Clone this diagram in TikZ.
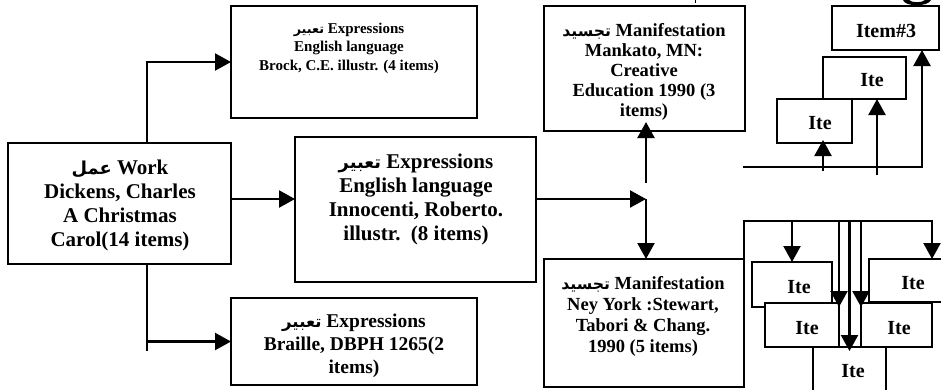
\documentclass[tikz,border=0pt]{standalone}
\usepackage{fontspec}
\setmainfont{Liberation Serif}
\newfontfamily\ar[Script=Arabic,Scale=0.85]{DejaVu Sans}
\TeXXeTstate=1
\usetikzlibrary{arrows.meta,calc}
\newcommand\AR[1]{{\ar\beginR #1\endR}}
\begin{document}
\begin{tikzpicture}[x=1pt,y=-1pt,
  box/.style={draw, line width=1.8pt, fill=white, inner sep=0pt, outer sep=0pt, rectangle},
  txt/.style={align=center, inner sep=0pt},
  big/.style={txt, font=\bfseries\fontsize{21}{24}\selectfont},
  itm/.style={txt, font=\bfseries\fontsize{20}{24}\selectfont},
  conn/.style={line width=2.2pt},
  arr/.style={conn, -{Triangle[length=16pt,width=17pt]}},
]
\useasboundingbox (0,0) rectangle (941,389);
% boxes
\node[box, minimum width=223pt, minimum height=121pt] (work) at (119.5,203.5) {};
\node[box, minimum width=246pt, minimum height=112pt] (expr1) at (354,62) {};
\node[box, minimum width=241pt, minimum height=145pt] (expr2) at (415.5,209.5) {};
\node[box, minimum width=246pt, minimum height=87pt] (braille) at (354,341.5) {};
\node[box, minimum width=201pt, minimum height=125pt] (manif1) at (644.5,68.5) {};
\node[box, minimum width=200pt, minimum height=128pt] (manif2) at (644,323) {};
\node[box, minimum width=107pt, minimum height=44pt] (i3) at (885.5,28) {};
\node[box, minimum width=83pt, minimum height=42pt] (im) at (864.5,78) {};
\node[box, minimum width=75pt, minimum height=44pt] (il) at (814.5,121) {};
\node[box, minimum width=80pt, minimum height=45pt] (A) at (792,284.5) {};
\node[box, minimum width=74pt, minimum height=44pt] (C) at (802,325) {};
\node[box, minimum width=88pt, minimum height=43pt] (B) at (913,280.5) {};
\node[box, minimum width=71pt, minimum height=44pt] (D) at (896.5,325) {};
\node[box, minimum width=73pt, minimum height=53pt] (E) at (849.5,373.5) {};
% texts
\node[big] (workT) at (120,205) {\AR{عمل} Work\\Dickens, Charles\\A Christmas\\Carol(14 items)};
\node[txt, font=\bfseries\fontsize{15}{18.5}\selectfont] (expr1T) at (349,48) {\AR{تعبير} Expressions\\English language\\Brock, C.E. illustr. (4 items)};
\node[big] (expr2T) at (416,199) {\AR{تعبير} Expressions\\English language\\Innocenti, Roberto.\\illustr.\ \ (8 items)};
\node[txt, font=\bfseries\fontsize{19.5}{23}\selectfont] (brailleT) at (354,346) {\AR{تعبير} Expressions\\Braille, DBPH 1265(2\\items)};
\node[txt, font=\bfseries\fontsize{18.5}{20.2}\selectfont] (manif1T) at (644,72) {\AR{تجسيد} Manifestation\\Mankato, MN:\\Creative\\Education 1990 (3\\items)};
\node[txt, font=\bfseries\fontsize{18.5}{21}\selectfont] (manif2T) at (643,316) {\AR{تجسيد} Manifestation\\Ney York :Stewart,\\Tabori \& Chang.\\1990 (5 items)};
\node[itm] (i3T) at (886,31) {Item\#3};
\node[itm] (imT) at (872,80) {Ite};
\node[itm] (ilT) at (820,123) {Ite};
\node[itm] (AT) at (799,287) {Ite};
\node[itm] (CT) at (807,328) {Ite};
\node[itm] (DT) at (899,328) {Ite};
\node[itm] (ET) at (853,371) {Ite};
\node[itm] (BT) at (913,283) {Ite};
% connectors from work
\coordinate (wt) at ([xshift=139pt]work.north west);
\draw[arr] (wt) |- (expr1.west);
\coordinate (wb) at ([xshift=139pt]work.south west);
\coordinate (wbj) at (wb |- braille.west);
\draw[conn] (wb) -- ($(wbj)+(0,9)$);
\draw[arr] (wbj) -- (braille.west);
\coordinate (rowA) at (0,199);
\draw[arr] (work.east |- rowA) -- (expr2.west |- rowA);
% expression to manifestations
\coordinate (jn) at (646,199);
\draw[arr] (expr2.east |- jn) -- (jn);
\draw[arr] ($(jn)+(0,-16)$) -- ($(manif1.south -| jn)+(0,-9)$);
\draw[arr] (jn) -- (manif2.north -| jn);
% manifestation 2 to items
\coordinate (bus) at (744,221);
\coordinate (busR) at (932,221);
\draw[arr] (manif2.north east) |- (busR) -- (busR |- B.north);
\draw[arr] (bus -| A.north) -- (A.north);
\draw[arr] (bus -| C.north east) -- ($(C.north east)+(0,4)$);
\draw[arr] (bus -| E.north) -- ($(E.north)+(0,4)$);
\draw[arr] (bus -| D.north west) -- ($(D.north west)+(0,4)$);
% top stack of items
\coordinate (b2L) at (743,167);
\coordinate (b2R) at (922,167);
\draw[arr] (b2L) -- (b2R) -- (b2R |- i3.south);
\coordinate (u1) at (823,171);
\draw[arr] (u1) -- ($(u1 |- il.south)+(0,-3)$);
\coordinate (u2) at (877,175);
\draw[arr] (u2) -- (u2 |- im.south);
% cropped fragments at the top edge
\fill (903,0) .. controls (905,7) and (928,7) .. (931,0) -- (925,0) .. controls (922,3) and (912,3) .. (909,0) -- cycle;
\draw[line width=1pt] (695,0) -- (695,3);
\end{tikzpicture}
\end{document}
